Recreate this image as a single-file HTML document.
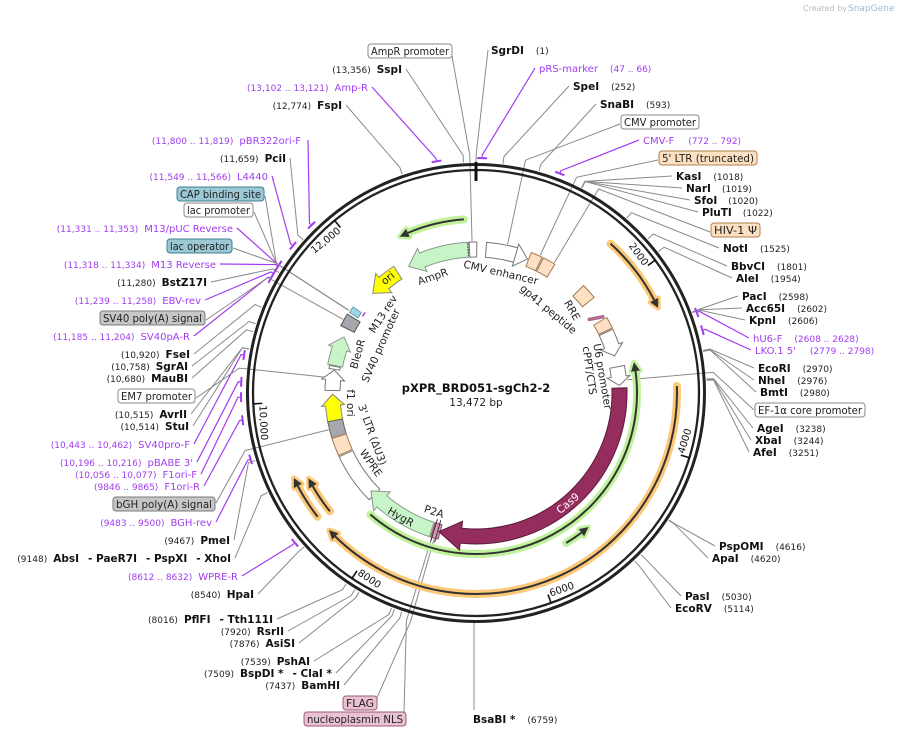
<!DOCTYPE html>
<html><head><meta charset="utf-8">
<style>
html,body{margin:0;padding:0;background:#fff;}
svg{display:block;font-family:"DejaVu Sans","Liberation Sans",sans-serif;}
.b{font-weight:bold;font-size:10.5px;fill:#111;}
.n{font-size:9px;fill:#222;}
.p{font-size:10px;fill:#a23cf0;}
.pn{font-size:9px;fill:#a23cf0;}
.bt{font-size:10.5px;fill:#222;}
.rl{font-size:10.5px;fill:#222;}
</style></head>
<body>
<svg id="s" width="899" height="736" viewBox="0 0 899 736" xmlns="http://www.w3.org/2000/svg">
<text x="803" y="11" font-size="8" fill="#bbb">Created by</text>
<text x="848" y="11" font-size="9" fill="#9bc">SnapGene</text>
<g id="lines"></g>
<g id="geo"></g>

<!-- ring labels -->
<text class="rl" transform="translate(500,276) rotate(13)" text-anchor="middle">CMV enhancer</text>
<text class="rl" transform="translate(434,280) rotate(-19)" text-anchor="middle">AmpR</text>
<text class="rl" fill="#222" transform="translate(390,281) rotate(-38)" text-anchor="middle" font-size="10">ori</text>
<text class="rl" transform="translate(546,312) rotate(40)" text-anchor="middle">gp41 peptide</text>
<text class="rl" transform="translate(569,312) rotate(60)" text-anchor="middle">RRE</text>
<text class="rl" transform="translate(386,316) rotate(-57)" text-anchor="middle">M13 rev</text>
<text class="rl" transform="translate(384,347) rotate(-66)" text-anchor="middle">SV40 promoter</text>
<text class="rl" transform="translate(361,355) rotate(-74)" text-anchor="middle">BleoR</text>
<text class="rl" transform="translate(347,403) rotate(90)" text-anchor="middle">f1 ori</text>
<text class="rl" transform="translate(369,436) rotate(70)" text-anchor="middle">3' LTR (ΔU3)</text>
<text class="rl" transform="translate(368,465) rotate(55)" text-anchor="middle">WPRE</text>
<text class="rl" transform="translate(399,520) rotate(30)" text-anchor="middle">HygR</text>
<text class="rl" transform="translate(433,515) rotate(18)" text-anchor="middle">P2A</text>
<text class="rl" transform="translate(599,377) rotate(80)" text-anchor="middle">U6 promoter</text>
<text class="rl" transform="translate(586,371) rotate(82)" text-anchor="middle">cPPT/CTS</text>
<text transform="translate(570,506) rotate(-40)" text-anchor="middle" font-size="10.5" fill="#fff">Cas9</text>

<text x="476" y="392" text-anchor="middle" font-size="11.5" font-weight="bold" fill="#111">pXPR_BRD051-sgCh2-2</text>
<text x="476" y="406" text-anchor="middle" font-size="10.5" fill="#222">13,472 bp</text>

<!-- left labels -->
<g text-anchor="end">
<text x="402" y="73"><tspan class="n">(13,356)</tspan><tspan class="b" dx="6">SspI</tspan></text>
<text x="368" y="91"><tspan class="pn">(13,102 .. 13,121)</tspan><tspan class="p" dx="6">Amp-R</tspan></text>
<text x="342" y="109"><tspan class="n">(12,774)</tspan><tspan class="b" dx="6">FspI</tspan></text>
<text x="301" y="144"><tspan class="pn">(11,800 .. 11,819)</tspan><tspan class="p" dx="6">pBR322ori-F</tspan></text>
<text x="286" y="162"><tspan class="n">(11,659)</tspan><tspan class="b" dx="6">PciI</tspan></text>
<text x="268" y="180"><tspan class="pn">(11,549 .. 11,566)</tspan><tspan class="p" dx="6">L4440</tspan></text>
<text x="233" y="232"><tspan class="pn">(11,331 .. 11,353)</tspan><tspan class="p" dx="6">M13/pUC Reverse</tspan></text>
<text x="216" y="268"><tspan class="pn">(11,318 .. 11,334)</tspan><tspan class="p" dx="6">M13 Reverse</tspan></text>
<text x="207" y="286"><tspan class="n">(11,280)</tspan><tspan class="b" dx="6">BstZ17I</tspan></text>
<text x="201" y="304"><tspan class="pn">(11,239 .. 11,258)</tspan><tspan class="p" dx="6">EBV-rev</tspan></text>
<text x="190" y="340"><tspan class="pn">(11,185 .. 11,204)</tspan><tspan class="p" dx="6">SV40pA-R</tspan></text>
<text x="190" y="358"><tspan class="n">(10,920)</tspan><tspan class="b" dx="6">FseI</tspan></text>
<text x="188" y="370"><tspan class="n">(10,758)</tspan><tspan class="b" dx="6">SgrAI</tspan></text>
<text x="188" y="382"><tspan class="n">(10,680)</tspan><tspan class="b" dx="6">MauBI</tspan></text>
<text x="187" y="418"><tspan class="n">(10,515)</tspan><tspan class="b" dx="6">AvrII</tspan></text>
<text x="189" y="430"><tspan class="n">(10,514)</tspan><tspan class="b" dx="6">StuI</tspan></text>
<text x="190" y="448"><tspan class="pn">(10,443 .. 10,462)</tspan><tspan class="p" dx="6">SV40pro-F</tspan></text>
<text x="193" y="466"><tspan class="pn">(10,196 .. 10,216)</tspan><tspan class="p" dx="6">pBABE 3'</tspan></text>
<text x="197" y="478"><tspan class="pn">(10,056 .. 10,077)</tspan><tspan class="p" dx="6">F1ori-F</tspan></text>
<text x="200" y="490"><tspan class="pn">(9846 .. 9865)</tspan><tspan class="p" dx="6">F1ori-R</tspan></text>
<text x="212" y="526"><tspan class="pn">(9483 .. 9500)</tspan><tspan class="p" dx="6">BGH-rev</tspan></text>
<text x="230" y="544"><tspan class="n">(9467)</tspan><tspan class="b" dx="6">PmeI</tspan></text>
<text x="231" y="562"><tspan class="n">(9148)</tspan><tspan class="b" dx="6">AbsI</tspan><tspan class="b" dx="9">- PaeR7I</tspan><tspan class="b" dx="9">- PspXI</tspan><tspan class="b" dx="9">- XhoI</tspan></text>
<text x="238" y="580"><tspan class="pn">(8612 .. 8632)</tspan><tspan class="p" dx="6">WPRE-R</tspan></text>
<text x="254" y="598"><tspan class="n">(8540)</tspan><tspan class="b" dx="6">HpaI</tspan></text>
<text x="273" y="623"><tspan class="n">(8016)</tspan><tspan class="b" dx="6">PflFI</tspan><tspan class="b" dx="9">- Tth111I</tspan></text>
<text x="284" y="635"><tspan class="n">(7920)</tspan><tspan class="b" dx="6">RsrII</tspan></text>
<text x="295" y="647"><tspan class="n">(7876)</tspan><tspan class="b" dx="6">AsiSI</tspan></text>
<text x="310" y="665"><tspan class="n">(7539)</tspan><tspan class="b" dx="6">PshAI</tspan></text>
<text x="332" y="677"><tspan class="n">(7509)</tspan><tspan class="b" dx="6">BspDI *</tspan><tspan class="b" dx="9">- ClaI *</tspan></text>
<text x="340" y="689"><tspan class="n">(7437)</tspan><tspan class="b" dx="6">BamHI</tspan></text>
</g>

<!-- right labels -->
<g>
<text x="491" y="54"><tspan class="b">SgrDI</tspan><tspan class="n" dx="12">(1)</tspan></text>
<text x="539" y="72"><tspan class="p">pRS-marker</tspan><tspan class="pn" dx="12">(47 .. 66)</tspan></text>
<text x="573" y="90"><tspan class="b">SpeI</tspan><tspan class="n" dx="12">(252)</tspan></text>
<text x="600" y="108"><tspan class="b">SnaBI</tspan><tspan class="n" dx="12">(593)</tspan></text>
<text x="643" y="144"><tspan class="p">CMV-F</tspan><tspan class="pn" dx="14">(772 .. 792)</tspan></text>
<text x="676" y="180"><tspan class="b">KasI</tspan><tspan class="n" dx="12">(1018)</tspan></text>
<text x="686" y="192"><tspan class="b">NarI</tspan><tspan class="n" dx="11">(1019)</tspan></text>
<text x="694" y="204"><tspan class="b">SfoI</tspan><tspan class="n" dx="11">(1020)</tspan></text>
<text x="702" y="216"><tspan class="b">PluTI</tspan><tspan class="n" dx="11">(1022)</tspan></text>
<text x="723" y="252"><tspan class="b">NotI</tspan><tspan class="n" dx="12">(1525)</tspan></text>
<text x="731" y="270"><tspan class="b">BbvCI</tspan><tspan class="n" dx="12">(1801)</tspan></text>
<text x="736" y="282"><tspan class="b">AleI</tspan><tspan class="n" dx="12">(1954)</tspan></text>
<text x="742" y="300"><tspan class="b">PacI</tspan><tspan class="n" dx="12">(2598)</tspan></text>
<text x="746" y="312"><tspan class="b">Acc65I</tspan><tspan class="n" dx="12">(2602)</tspan></text>
<text x="749" y="324"><tspan class="b">KpnI</tspan><tspan class="n" dx="12">(2606)</tspan></text>
<text x="753" y="342"><tspan class="p">hU6-F</tspan><tspan class="pn" dx="12">(2608 .. 2628)</tspan></text>
<text x="755" y="354"><tspan class="p">LKO.1 5'</tspan><tspan class="pn" dx="14">(2779 .. 2798)</tspan></text>
<text x="758" y="372"><tspan class="b">EcoRI</tspan><tspan class="n" dx="12">(2970)</tspan></text>
<text x="758" y="384"><tspan class="b">NheI</tspan><tspan class="n" dx="12">(2976)</tspan></text>
<text x="760" y="396"><tspan class="b">BmtI</tspan><tspan class="n" dx="12">(2980)</tspan></text>
<text x="757" y="432"><tspan class="b">AgeI</tspan><tspan class="n" dx="12">(3238)</tspan></text>
<text x="755" y="444"><tspan class="b">XbaI</tspan><tspan class="n" dx="12">(3244)</tspan></text>
<text x="753" y="456"><tspan class="b">AfeI</tspan><tspan class="n" dx="12">(3251)</tspan></text>
<text x="719" y="550"><tspan class="b">PspOMI</tspan><tspan class="n" dx="12">(4616)</tspan></text>
<text x="712" y="562"><tspan class="b">ApaI</tspan><tspan class="n" dx="12">(4620)</tspan></text>
<text x="685" y="600"><tspan class="b">PasI</tspan><tspan class="n" dx="12">(5030)</tspan></text>
<text x="675" y="612"><tspan class="b">EcoRV</tspan><tspan class="n" dx="12">(5114)</tspan></text>
<text x="473" y="723"><tspan class="b">BsaBI *</tspan><tspan class="n" dx="12">(6759)</tspan></text>
</g>

<g id="boxes"></g>

<script>
(function(){
var NS="http://www.w3.org/2000/svg";
var CX=476,CY=393;
function P(t,r){var a=t*Math.PI/180;return [CX+r*Math.sin(a),CY-r*Math.cos(a)];}
function f(p){return p[0].toFixed(2)+","+p[1].toFixed(2);}
function el(par,tag,attrs,txt){var e=document.createElementNS(NS,tag);for(var k in attrs)e.setAttribute(k,attrs[k]);if(txt!=null)e.textContent=txt;document.getElementById(par).appendChild(e);return e;}
function arcTo(t1,t2,r){var sw=t2>t1?1:0;var lg=Math.abs(t2-t1)>180?1:0;return "A"+r+","+r+" 0 "+lg+" "+sw+" "+f(P(t2,r));}
// leaders
function lead(t,r0,x,y,col){
  var a=P(t,r0),b=P(t,238);
  el("lines","polyline",{points:f(a)+" "+f(b)+" "+x+","+y,fill:"none",stroke:col||"#8a8a8a","stroke-width":col?1.2:1});
  if(col){var c=P(t-1.2,235),d=P(t+1.2,235);el("lines","path",{d:"M"+f(c)+arcTo(t-1.2,t+1.2,235),fill:"none",stroke:col,"stroke-width":2});}
}
var PU="#a23cf0";
function deg(p){return p/13472*360;}
var L=[
 [deg(13356),231,406,69],[deg(13110),236,372,87,PU],[deg(12774),231,346,105],
 [deg(11810),236,308,140,PU],[deg(11659),231,290,158],[deg(11557),236,272,176,PU],
 [deg(11340),236,237,228,PU],[deg(11326),236,220,264,PU],[deg(11280),231,211,282],
 [deg(11248),236,205,300,PU],[deg(11195),236,194,336,PU],[deg(10920),231,194,354],
 [deg(10758),231,192,366],[deg(10680),231,192,378],[deg(10515),231,191,414],[deg(10514),231,193,426],
 [deg(10452),236,194,444,PU],[deg(10206),236,197,462,PU],[deg(10066),236,201,474,PU],
 [deg(9855),236,204,486,PU],[deg(9490),236,216,522,PU],[deg(9467),231,234,540],
 [deg(9148),231,235,558],[deg(8622),236,242,576,PU],[deg(8540),231,258,594],
 [deg(8016),231,277,619],[deg(7920),231,288,631],[deg(7876),231,299,643],
 [deg(7539),231,314,661],[deg(7509),231,336,673],[deg(7437),231,344,685],
 [deg(1),231,488,50],[deg(56),236,535,68,PU],[deg(252),231,569,86],[deg(593),231,596,104],
 [deg(782),236,639,140,PU],[deg(1018),231,672,176],[deg(1019),231,682,188],[deg(1020),231,690,200],
 [deg(1022),231,698,212],[deg(1525),231,719,248],[deg(1801),231,727,266],[deg(1954),231,732,278],
 [deg(2598),231,738,296],[deg(2602),231,742,308],[deg(2606),231,745,320],
 [deg(2618),236,749,338,PU],[deg(2788),236,751,350,PU],[deg(2970),231,754,368],[deg(2976),231,754,380],
 [deg(2980),231,756,392],[deg(3238),231,753,428],[deg(3244),231,751,440],[deg(3251),231,749,452],
 [deg(4616),231,715,546],[deg(4620),231,708,558],[deg(5030),231,681,596],[deg(5114),231,671,608],
 // feature boxes
 [-1.5,152,452,56],[12,152,620,124],[25,152,658,160],[31,152,710,232],
 [-57,152,265,196],[-57,152,254,212],[-57,152,233,248],[-61,152,206,320],
 [-84,152,196,398],[-104,152,216,503],[85,152,754,410],[196,152,376,700],[197,152,404,712]
];
L.forEach(function(l){lead(l[0],l[1],l[2],l[3],l[4]);});
// BsaBI vertical
el("lines","polyline",{points:"474,622 474,710",fill:"none",stroke:"#8a8a8a"});

// ring
el("geo","circle",{cx:CX,cy:CY,r:228.5,fill:"none",stroke:"#222","stroke-width":3});
el("geo","circle",{cx:CX,cy:CY,r:223,fill:"none",stroke:"#222","stroke-width":2.3});
// ticks
for(var k=0;k<7;k++){
  var t=deg(k*2000);
  if(k==0){var a=P(0,231),b=P(0,212);el("geo","line",{x1:a[0],y1:a[1],x2:b[0],y2:b[1],stroke:"#111","stroke-width":3});continue;}
  var a=P(t,223),b=P(t,214);el("geo","line",{x1:a[0],y1:a[1],x2:b[0],y2:b[1],stroke:"#111","stroke-width":1.6});
  var lab=(k*2000>=10000)?(k*2000).toLocaleString("en-US"):String(k*2000);
  lab=k*2000>=10000?(k==5?"10,000":"12,000"):lab;
  var flip=(t>90&&t<270);
  if(!flip){el("geo","text",{transform:"rotate("+t+" "+CX+" "+CY+") translate("+CX+",180)","text-anchor":"end",x:-2,y:3,"font-size":"10",fill:"#111"},lab);}
  else{el("geo","text",{transform:"rotate("+t+" "+CX+" "+CY+") translate("+CX+",180) rotate(180)","text-anchor":"start",x:2,y:4,"font-size":"10",fill:"#111"},lab);}
}
// line arrows with halo
function larc(t1,t2,r,halo){
  var dir=t2>t1?1:-1,hd=9/r*57.3,th=t2-dir*hd;
  var d="M"+f(P(t1,r))+arcTo(t1,th,r);
  var tri="M"+f(P(t2,r))+"L"+f(P(th,r-4.5))+"L"+f(P(th,r+4.5))+"Z";
  el("geo","path",{d:d,fill:"none",stroke:halo,"stroke-width":8,"stroke-linecap":"round"});
  el("geo","path",{d:tri,fill:halo,stroke:halo,"stroke-width":5,"stroke-linejoin":"round"});
  el("geo","path",{d:d,fill:"none",stroke:"#333","stroke-width":2});
  el("geo","path",{d:tri,fill:"#333"});
}
var OR="#fdc878",GR="#bff29a";
larc(88,227,201,OR);
larc(42,65,201,OR);
larc(232,245,201,OR);
larc(231,243,188,OR);
larc(221,79,161,GR);
larc(149,140,175,GR);
larc(-4,-26,174,GR);
// features
function feat(t1,t2,fill,stroke,head,hw,r1,r2){
  r1=r1||136;r2=r2||151;var rm=(r1+r2)/2;
  if(!head){
    var d="M"+f(P(t1,r2))+arcTo(t1,t2,r2)+"L"+f(P(t2,r1))+arcTo(t2,t1,r1)+"Z";
    el("geo","path",{d:d,fill:fill,stroke:stroke,"stroke-width":1});return;}
  var dir=t2>t1?1:-1,hd=head,th=t2-dir*hd;hw=hw||5;
  var d="M"+f(P(t1,r2))+arcTo(t1,th,r2)+"L"+f(P(th,r2+hw))+"L"+f(P(t2,rm))+"L"+f(P(th,r1-hw))+"L"+f(P(th,r1))+arcTo(th,t1,r1)+"Z";
  el("geo","path",{d:d,fill:fill,stroke:stroke,"stroke-width":1});
}
var LG="#c8f5c8",WH="#fff",GS="#777",PE="#fde0c2",PES="#a07850",GY="#a4a8ad";
feat(-3,-28,LG,"#8a9a8a",6,5);
el("geo","path",{d:"M"+f(P(-3.2,150))+"L"+f(P(-3.2,137)),stroke:"#333","stroke-dasharray":"1.5,1.5","stroke-width":1});
feat(-2.6,0.3,WH,GS);
feat(-33,-46,"#ffff00","#888",6,5);
feat(-55,-57.5,"#9fd6e6","#6a9fb0",0,0,140,150);
el("geo","path",{d:"M"+f(P(-56,137))+arcTo(-56,-54,137),stroke:PU,fill:"none","stroke-width":1.5});
feat(-58.5,-63.5,GY,"#555");
feat(-79,-67,LG,"#8a9a8a",5,4);
feat(-80.5,-79.3,WH,GS,0,0,138,149);
feat(-89,-80.8,WH,GS,4,4);
feat(-101,-90.5,"#ffff00","#888",4.5,4);
feat(-107.5,-101,GY,"#666");
feat(-114.5,-107.5,PE,PES);
feat(-135,-115,WH,GS);
feat(198,227,LG,"#8a9a8a",6,5);
feat(194.5,197.5,"#d89ab8","#8a4a6a");
el("geo","path",{d:"M"+f(P(195.5,132))+"L"+f(P(195.5,155))+"M"+f(P(197,132))+"L"+f(P(197,155)),stroke:"#333","stroke-width":1});
feat(88,195,"#962d5f","#5a1a38",9,7);
feat(79.5,87,WH,GS,3.5,4);
feat(65,75,WH,GS,4,4);
feat(60,64.5,PE,PES);
feat(45,51,PE,PES,0,0,137,152);
el("geo","path",{d:"M"+f(P(57,135))+"L"+f(P(59,148)),stroke:"#b06a90","stroke-width":3.5,"stroke-linecap":"round"});
feat(21.5,26,PE,PES);feat(26.5,31.5,PE,PES);
feat(4,21,WH,GS,5,4);
el("geo","path",{d:"M"+f(P(16,136))+"L"+f(P(16,151)),stroke:"#777","stroke-width":1});

// boxes
var B=[[368,452,51,"AmpR promoter","w"],[621,699,122,"CMV promoter","w"],[659,757,158,"5' LTR (truncated)","p"],
[711,760,230,"HIV-1 Ψ","p"],[177,264,194,"CAP binding site","b"],[184,253,210,"lac promoter","w"],
[167,232,246,"lac operator","b"],[100,205,318,"SV40 poly(A) signal","g"],[118,195,396,"EM7 promoter","w"],
[113,215,504,"bGH poly(A) signal","g"],[755,865,410,"EF-1α core promoter","w"],[343,377,703,"FLAG","k"],
[304,406,719,"nucleoplasmin NLS","k"]];
var S={w:["#fff","#888"],p:["#fde0c2","#b08050"],b:["#9ac8d4","#3f7f90"],g:["#c4c6c8","#7a7a7a"],k:["#e8c2d2","#a05a78"]};
B.forEach(function(b){
  el("boxes","rect",{x:b[0],y:b[2]-7,width:b[1]-b[0],height:14,rx:3,fill:S[b[4]][0],stroke:S[b[4]][1],"stroke-width":1});
  el("boxes","text",{x:(b[0]+b[1])/2,y:b[2]+4,"text-anchor":"middle","font-size":"10.5",fill:"#222",textLength:b[1]-b[0]-6,lengthAdjust:"spacingAndGlyphs"},b[3]);
});
})();
</script>
</svg>
</body></html>
